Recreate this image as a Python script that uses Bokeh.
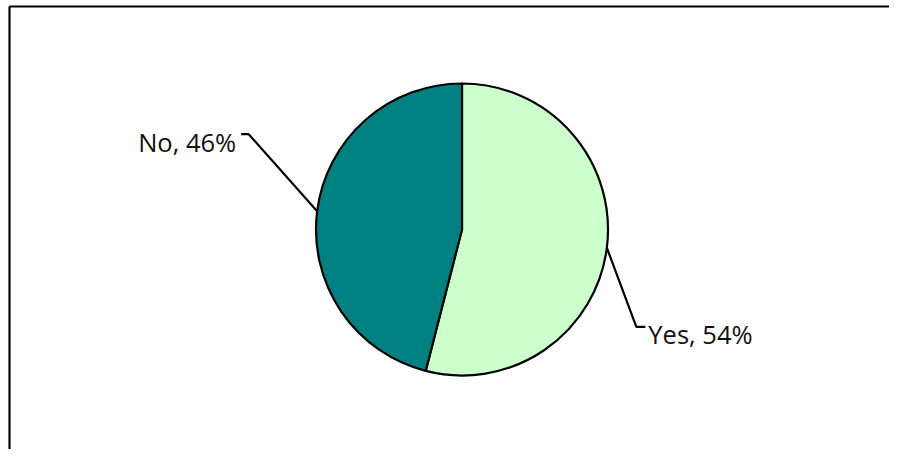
import math
from bokeh.plotting import figure
from bokeh.models import Range1d, ColumnDataSource
from bokeh.core.properties import value
from bokeh.embed import file_html
from bokeh.resources import INLINE

# ---- data ----
categories = ["Yes", "No"]
percents = [54, 46]
colors = ["#CCFFCC", "#008080"]

W, H = 889, 449
FULL_H = 457
p = figure(width=W, height=H, output_backend="svg", toolbar_location=None,
           x_range=Range1d(0, W), y_range=Range1d(FULL_H - H, FULL_H), min_border=0,
           outline_line_color=None, background_fill_color="white",
           border_fill_color="white")
p.axis.visible = False
p.grid.visible = False

# chart area border (left and top visible)
p.line([9, 9], [-5, FULL_H - 6], line_color="black", line_width=2.2)
p.line([9, W + 20], [FULL_H - 6, FULL_H - 6], line_color="black", line_width=2.2)

cx, cy, r = 461.5, FULL_H - 229.0, 146.0
total = sum(percents)
starts, ends, mids = [], [], []
acc = 0.0
for v in percents:
    a0 = math.pi / 2 - 2 * math.pi * acc / total
    a1 = math.pi / 2 - 2 * math.pi * (acc + v) / total
    starts.append(a0)
    ends.append(a1)
    mids.append((a0 + a1) / 2)
    acc += v

src = ColumnDataSource(dict(x=[cx] * len(percents), y=[cy] * len(percents),
                            start=starts, end=ends, color=colors))
p.wedge(x="x", y="y", radius=r, start_angle="end", end_angle="start",
        fill_color="color", line_color="black", line_width=2.2, source=src)

# leader lines and labels
font = value("Open Sans")
for cat, v, m in zip(categories, percents, mids):
    ax = cx + r * math.cos(m)
    ay = cy + r * math.sin(m)
    label = f"{cat}, {v}%"
    if math.cos(m) >= 0:
        bx, by = ax + 29.5, ay - 79
        ex = bx + 9
        p.line([ax, bx, ex], [ay, by, by], line_color="black", line_width=2.2)
        p.text([ex + 3], [by - 7.5], text=[label], text_font=font,
               text_font_size="25.5px", text_align="left",
               text_baseline="alphabetic", text_color="#111111")
    else:
        bx, by = ax - 68.5, ay + 77
        ex = bx - 7.5
        p.line([ax, bx, ex], [ay, by, by], line_color="black", line_width=2.2)
        p.text([ex - 5], [by - 8], text=[label], text_font=font,
               text_font_size="25.5px", text_align="right",
               text_baseline="alphabetic", text_color="#111111")

open("out.html", "w").write(file_html(p, INLINE))
